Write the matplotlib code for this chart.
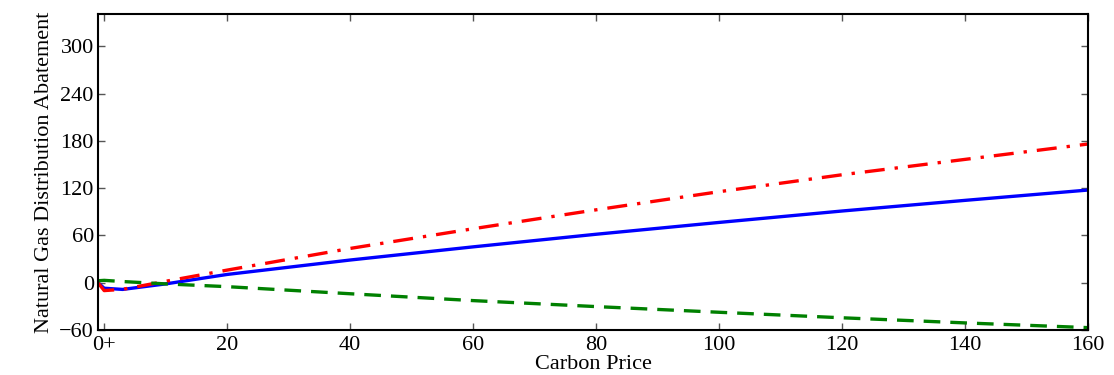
import matplotlib
matplotlib.use("Agg")
import matplotlib.pyplot as plt

# carbon price grid (first point sits just left of the "0+" tick)
price = [-1, 0, 3, 10, 20, 40, 60, 80, 100, 120, 140, 160]

# abatement
blue_solid = [0, -7, -8.5, -1.5, 10.5, 28.8, 45.5, 61.5, 76.5, 91, 104.5, 117.6]
red_dashdot = [0, -10, -8.4, 1.8, 16, 43.5, 68.5, 92.5, 115.5, 137, 156.5, 176]
green_dashed = [2.5, 3, 1.5, -1.5, -5, -14, -22.7, -30.3, -37.5, -44.5, -51, -57]

xticks = [0, 20, 40, 60, 80, 100, 120, 140, 160]
xticklabels = ["0+", "20", "40", "60", "80", "100", "120", "140", "160"]
yticks = [-60, 0, 60, 120, 180, 240, 300]

plt.rcParams["font.family"] = ["Liberation Serif", "DejaVu Serif"]

fig = plt.figure(figsize=(11.14, 3.75), dpi=100)
ax = fig.add_axes([0.088, 0.12, 0.8887, 0.8427])

ax.plot(price, blue_solid, color="#0000ff", lw=2.4, solid_capstyle="butt")
ax.plot(price, red_dashdot, color="#ff0000", lw=2.4, ls=(0, (6, 3, 1, 3)))
ax.plot(price, green_dashed, color="#008000", lw=2.4, ls=(0, (5, 3)))

ax.set_xlim(-1, 160)
ax.set_ylim(-60, 341)
ax.set_xticks(xticks)
ax.set_xticklabels(xticklabels)
ax.set_yticks(yticks)
ax.set_yticklabels(["\u221260"] + [str(v) for v in yticks[1:]])

ax.tick_params(direction="in", length=5, width=1, color="#555555",
               top=True, right=True, labelsize=16)
ax.tick_params(axis="x", pad=4)
ax.tick_params(axis="y", pad=3)
for s in ax.spines.values():
    s.set_linewidth(1.5)

ax.set_xlabel("Carbon Price", fontsize=16, labelpad=0.5)
ax.set_ylabel("Natural Gas Distribution Abatement", fontsize=16, labelpad=4)

fig.savefig("out.png", dpi=100)
plt.close(fig)
